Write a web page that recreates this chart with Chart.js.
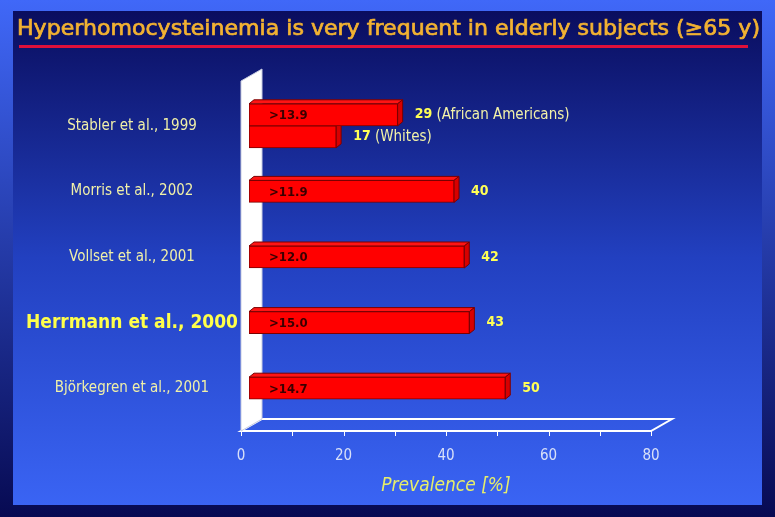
<!DOCTYPE html>
<html>
<head>
<meta charset="utf-8">
<script src="https://cdn.jsdelivr.net/npm/chart.js@4.4.0/dist/chart.umd.min.js"></script>
<style>
  html, body { margin: 0; padding: 0; background: #0b0e60; }
  #wrap { width: 775px; height: 517px; }
</style>
</head>
<body>
<div id="wrap"><canvas id="canvas" width="775" height="517"></canvas></div>
<script>
  // data
  var titleText = 'Hyperhomocysteinemia is very frequent in elderly subjects (\u226565 y)';
  var studies = ['Stabler et al., 1999', 'Morris et al., 2002', 'Vollset et al., 2001', 'Herrmann et al., 2000', 'Bj\u00f6rkegren et al., 2001'];
  var prevalence = [29, 40, 42, 43, 50];
  var prevalenceWhites = [17, null, null, null, null];
  var cutoffs = ['>13.9', '>11.9', '>12.0', '>15.0', '>14.7'];
  var groupNotes = ['(African Americans)', '', '', '', ''];
  var whitesNotes = ['(Whites)', '', '', '', ''];
  var highlighted = 'Herrmann et al., 2000';
  var axisTitle = 'Prevalence [%]';

  var FONT = '"DejaVu Sans Condensed", "DejaVu Sans", sans-serif';
  var shift = 8;          // bars stand a bit inside the wall
  var depth = { x: 5, y: -4 };
  var wall = { x: 21, y: -12 };

  function poly(ctx, pts) {
    ctx.beginPath();
    ctx.moveTo(pts[0][0], pts[0][1]);
    for (var i = 1; i < pts.length; i++) ctx.lineTo(pts[i][0], pts[i][1]);
    ctx.closePath();
  }

  var slide = {
    id: 'slide',
    beforeDraw: function (chart) {
      var ctx = chart.ctx, W = chart.width, H = chart.height;
      var g = ctx.createLinearGradient(0, 0, 0, H);
      g.addColorStop(0, '#4068f8');
      g.addColorStop(1, '#070a52');
      ctx.fillStyle = g;
      ctx.fillRect(0, 0, W, H);

      var p = ctx.createLinearGradient(0, 11, 0, 505);
      p.addColorStop(0, '#0a0d5e');
      p.addColorStop(0.5, '#2240c0');
      p.addColorStop(1, '#3a64f4');
      ctx.fillStyle = p;
      ctx.fillRect(13, 11, 749, 494);

      // title, stretched to the slide width
      ctx.save();
      ctx.font = '21px "DejaVu Sans"';
      var w = ctx.measureText(titleText).width;
      ctx.translate(17, 35);
      ctx.scale(743 / w, 1);
      ctx.fillStyle = '#f2b232';
      ctx.strokeStyle = '#f2b232';
      ctx.lineWidth = 0.7;
      ctx.textAlign = 'left';
      ctx.textBaseline = 'alphabetic';
      ctx.fillText(titleText, 0, 0);
      ctx.strokeText(titleText, 0, 0);
      ctx.restore();

      ctx.fillStyle = '#e0103a';
      ctx.fillRect(19, 45, 729, 3);
    },
    beforeDatasetsDraw: function (chart) {
      var ctx = chart.ctx, area = chart.chartArea, xs = chart.scales.x;
      var x0 = xs.getPixelForValue(xs.min), x1 = xs.getPixelForValue(xs.max);
      var fy = area.bottom + 10, top = area.top - 12;

      // floor
      ctx.save();
      ctx.strokeStyle = '#ffffff';
      ctx.lineWidth = 2;
      poly(ctx, [[x0, fy], [x1, fy], [x1 + wall.x, fy + wall.y], [x0 + wall.x, fy + wall.y]]);
      ctx.stroke();
      // tick marks
      ctx.lineWidth = 1;
      xs.ticks.forEach(function (t) {
        var px = Math.round(xs.getPixelForValue(t.value)) + 0.5;
        ctx.beginPath();
        ctx.moveTo(px, fy);
        ctx.lineTo(px, fy + 5);
        ctx.stroke();
      });
      // wall
      poly(ctx, [[x0, top], [x0 + wall.x, top + wall.y], [x0 + wall.x, fy + wall.y], [x0, fy]]);
      ctx.fillStyle = '#ffffff';
      ctx.fill();
      ctx.strokeStyle = '#c8cce0';
      ctx.stroke();
      ctx.restore();

      // top and side faces, behind the front faces
      ctx.save();
      ctx.translate(shift, 0);
      chart.data.datasets.forEach(function (ds, di) {
        chart.getDatasetMeta(di).data.forEach(function (el, i) {
          if (ds.data[i] == null) return;
          var b = el.getProps(['x', 'y', 'base', 'height'], true);
          var t = b.y - b.height / 2, bt = b.y + b.height / 2;
          ctx.strokeStyle = '#7a0000';
          ctx.lineWidth = 1;
          poly(ctx, [[b.base, t], [b.base + depth.x, t + depth.y], [b.x + depth.x, t + depth.y], [b.x, t]]);
          ctx.fillStyle = '#ff1414';
          ctx.fill(); ctx.stroke();
          poly(ctx, [[b.x, t], [b.x + depth.x, t + depth.y], [b.x + depth.x, bt + depth.y], [b.x, bt]]);
          ctx.fillStyle = '#d80000';
          ctx.fill(); ctx.stroke();
        });
      });
    },
    afterDatasetsDraw: function (chart) {
      var ctx = chart.ctx;
      ctx.restore();
      ctx.save();
      ctx.textAlign = 'left';
      ctx.textBaseline = 'middle';
      function valueLabel(el, v, note) {
        var x = el.x + shift + 17;
        ctx.font = 'bold 14px ' + FONT;
        ctx.fillStyle = '#ffff55';
        ctx.fillText(String(v), x, el.y);
        if (note) {
          var w = ctx.measureText(String(v)).width;
          ctx.font = '15px ' + FONT;
          ctx.fillStyle = '#f2f2a8';
          ctx.fillText(' ' + note, x + w, el.y);
        }
      }
      chart.getDatasetMeta(0).data.forEach(function (el, i) {
        ctx.font = 'bold 13px ' + FONT;
        ctx.fillStyle = '#3a0000';
        ctx.fillText(cutoffs[i], el.base + shift + 20, el.y + 1);
        valueLabel(el, prevalence[i], groupNotes[i]);
      });
      chart.getDatasetMeta(1).data.forEach(function (el, i) {
        if (prevalenceWhites[i] == null) return;
        valueLabel(el, prevalenceWhites[i], whitesNotes[i]);
      });
      ctx.restore();
    }
  };

  var barStyle = {
    barThickness: 22,
    skipNull: true,
    backgroundColor: '#ff0000',
    borderColor: '#7a0000',
    borderWidth: 1,
    borderSkipped: false
  };

  var chart = new Chart(document.getElementById('canvas'), {
    type: 'bar',
    data: {
      labels: studies,
      datasets: [
        Object.assign({ label: 'All', data: prevalence }, barStyle),
        Object.assign({ label: 'Whites', data: prevalenceWhites }, barStyle)
      ]
    },
    options: {
      indexAxis: 'y',
      responsive: false,
      animation: false,
      layout: { padding: { top: 93, right: 124, left: 0, bottom: 0 } },
      plugins: { legend: { display: false }, tooltip: { enabled: false }, colors: { enabled: false } },
      scales: {
        x: {
          min: 0,
          max: 80,
          grid: { display: false, drawTicks: false },
          border: { display: false },
          ticks: {
            stepSize: 10,
            autoSkip: false,
            maxRotation: 0,
            padding: 26,
            color: '#d8e0f8',
            font: { family: FONT, size: 15 },
            callback: function (v) { return v % 20 === 0 ? v : ''; }
          },
          title: {
            display: true,
            text: axisTitle,
            color: '#e6ee6a',
            font: { family: FONT, size: 19, style: 'italic' },
            padding: { top: 0, bottom: 20 }
          },
          afterFit: function (s) { s.height = 96; }
        },
        y: {
          grid: { display: false, drawTicks: false },
          border: { display: false },
          ticks: {
            crossAlign: 'center',
            padding: 3,
            color: function (c) { return studies[c.index] === highlighted ? '#ffff4a' : '#f0f0a8'; },
            font: function (c) {
              return studies[c.index] === highlighted
                ? { family: FONT, size: 19, weight: 'bold' }
                : { family: FONT, size: 15 };
            }
          },
          afterFit: function (s) { s.width = 241; }
        }
      }
    },
    plugins: [slide]
  });
</script>
</body>
</html>
